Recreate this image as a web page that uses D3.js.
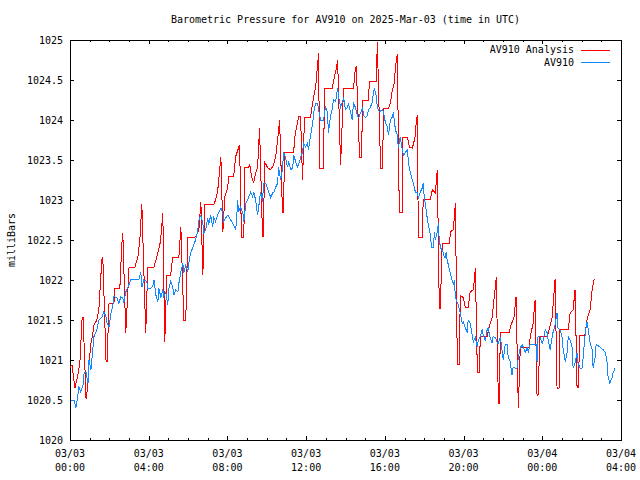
<!DOCTYPE html>
<html><head><meta charset="utf-8">
<script src="https://cdn.jsdelivr.net/npm/d3@7"></script>
<style>
html,body{margin:0;padding:0;background:#fff;}
svg{display:block;}
text{font-family:"DejaVu Sans Mono","Liberation Mono",monospace;font-size:10px;fill:#000;}
</style></head>
<body>
<svg id="chart" width="640" height="480"></svg>
<script>
// ---- data (minutes after 2025-03-03 00:00 UTC, millibars) ----
const chartTitle = "Barometric Pressure for AV910 on 2025-Mar-03 (time in UTC)";
const yLabel = "milliBars";
const seriesNames = ["AV910 Analysis", "AV910"];
const yTickValues = [1020, 1020.5, 1021, 1021.5, 1022, 1022.5, 1023, 1023.5, 1024, 1024.5, 1025];
const xTickHours = [0, 4, 8, 12, 16, 20, 24, 28];

const analysis = [
[0,1020.90],[6,1020.94],[15,1020.65],[24,1020.81],[30,1020.96],[37,1021.53],[40,1021.53],[49,1020.51],[55,1020.71],[58,1020.96],
[64,1021.21],[70,1021.34],[73,1021.44],[82,1021.50],[88,1021.63],[97,1022.25],[100,1022.29],[110,1020.98],[113,1020.98],[119,1021.71],
[134,1021.71],[137,1021.90],[152,1021.90],[158,1022.44],[161,1022.59],[170,1021.34],[180,1022.16],[198,1022.16],[207,1022.29],[213,1022.50],
[219,1022.95],[231,1021.34],[237,1022.16],[256,1022.16],[268,1022.34],[274,1022.44],[277,1022.54],[283,1022.84],[289,1021.23],[295,1022.06],
[307,1022.06],[313,1022.28],[332,1022.28],[338,1022.66],[347,1021.50],[353,1021.50],[359,1022.53],[377,1022.53],[383,1022.54],[393,1022.63],
[399,1022.98],[405,1022.06],[411,1022.94],[438,1022.94],[444,1023.00],[450,1023.10],[460,1023.54],[466,1022.60],[472,1023.04],[481,1023.16],
[484,1023.29],[499,1023.29],[505,1023.54],[517,1023.69],[523,1022.53],[530,1022.53],[533,1023.41],[545,1023.41],[548,1023.44],[554,1023.29],
[560,1023.21],[566,1023.34],[572,1023.41],[578,1023.90],[587,1022.54],[590,1022.54],[593,1023.48],[603,1023.40],[612,1023.38],[621,1023.44],
[627,1023.54],[633,1023.75],[639,1024.00],[648,1022.84],[651,1022.84],[654,1023.59],[682,1023.59],[685,1023.78],[697,1024.04],[703,1024.04],
[709,1023.25],[715,1024.03],[733,1024.03],[743,1024.29],[749,1024.41],[758,1024.84],[761,1023.40],[773,1023.40],[776,1024.39],[800,1024.39],
[803,1024.48],[813,1024.66],[816,1024.75],[825,1023.44],[834,1024.40],[864,1024.40],[867,1024.50],[870,1024.65],[873,1024.66],[883,1023.53],
[889,1023.53],[892,1024.25],[910,1024.25],[913,1024.48],[934,1024.48],[937,1024.98],[947,1023.40],[953,1023.40],[956,1024.15],[971,1024.15],
[977,1024.21],[983,1024.38],[989,1024.46],[992,1024.66],[998,1024.83],[1004,1022.85],[1013,1022.85],[1015,1023.78],[1029,1023.78],[1035,1023.66],
[1044,1023.65],[1050,1023.75],[1053,1023.81],[1056,1024.00],[1059,1024.06],[1062,1022.53],[1074,1022.53],[1077,1023.01],[1099,1023.01],[1105,1023.13],
[1114,1023.09],[1120,1023.38],[1126,1021.65],[1129,1021.65],[1135,1022.46],[1157,1022.46],[1160,1022.60],[1169,1022.63],[1175,1022.96],[1181,1020.94],
[1187,1020.94],[1190,1021.81],[1199,1021.78],[1205,1021.66],[1214,1021.66],[1220,1021.85],[1230,1021.88],[1236,1022.15],[1242,1020.85],[1248,1020.85],
[1251,1021.30],[1272,1021.30],[1281,1021.46],[1287,1021.53],[1300,1022.04],[1306,1020.46],[1309,1020.46],[1312,1021.34],[1339,1021.34],[1345,1021.44],
[1354,1021.54],[1360,1021.79],[1367,1020.40],[1373,1021.16],[1400,1021.16],[1403,1021.28],[1412,1021.46],[1418,1021.75],[1424,1020.56],[1427,1020.56],
[1433,1021.29],[1455,1021.29],[1461,1021.38],[1470,1021.53],[1479,1022.01],[1485,1020.65],[1491,1020.65],[1494,1021.38],[1519,1021.38],[1525,1021.59],
[1534,1021.63],[1540,1021.88],[1546,1020.66],[1549,1020.66],[1555,1021.31],[1570,1021.31],[1576,1021.50],[1586,1021.63],[1592,1021.88],[1598,1022.01]
];

const av910 = [
[3,1020.50],[12,1020.50],[18,1020.40],[24,1020.56],[27,1020.66],[33,1020.60],[40,1020.69],[43,1020.84],[49,1020.84],[55,1020.71],
[58,1021.00],[64,1020.88],[70,1021.16],[73,1021.29],[82,1021.38],[88,1021.50],[97,1021.53],[103,1021.60],[110,1021.54],[113,1021.46],
[119,1021.41],[125,1021.59],[131,1021.69],[134,1021.79],[143,1021.78],[149,1021.71],[155,1021.79],[161,1021.78],[164,1021.71],[170,1021.85],
[177,1021.91],[186,1022.01],[210,1022.01],[216,1022.10],[219,1021.91],[225,1022.00],[234,1021.98],[237,1021.90],[247,1021.90],[253,1021.93],
[256,1022.00],[262,1021.81],[268,1021.73],[271,1021.90],[277,1021.78],[283,1021.88],[286,1021.79],[292,1021.84],[298,1021.69],[301,1021.88],
[307,1021.98],[313,1021.91],[317,1021.81],[323,1021.88],[329,1021.85],[332,1021.96],[338,1022.10],[344,1022.21],[347,1022.09],[353,1022.19],
[359,1022.10],[362,1022.21],[368,1022.34],[374,1022.40],[377,1022.44],[383,1022.50],[390,1022.63],[393,1022.75],[399,1022.81],[405,1022.71],
[408,1022.59],[414,1022.63],[420,1022.78],[423,1022.69],[429,1022.81],[435,1022.66],[438,1022.78],[444,1022.73],[450,1022.81],[453,1022.84],
[460,1022.90],[466,1022.84],[469,1022.73],[475,1022.78],[481,1022.81],[484,1022.79],[490,1022.75],[496,1022.71],[499,1022.69],[505,1022.63],
[508,1022.75],[511,1023.00],[514,1022.85],[520,1022.91],[527,1022.84],[530,1022.73],[536,1022.96],[542,1023.00],[545,1023.04],[551,1023.10],
[557,1023.04],[560,1023.10],[566,1023.00],[572,1022.81],[575,1022.90],[581,1023.10],[587,1022.98],[590,1023.21],[597,1023.21],[603,1023.13],
[606,1023.10],[612,1023.03],[618,1023.09],[621,1023.09],[627,1023.16],[633,1023.21],[636,1023.41],[642,1023.25],[648,1023.38],[651,1023.60],
[657,1023.54],[663,1023.41],[667,1023.48],[673,1023.38],[679,1023.40],[682,1023.56],[688,1023.48],[694,1023.41],[697,1023.44],[703,1023.53],
[709,1023.60],[712,1023.71],[718,1023.66],[724,1023.71],[727,1023.63],[733,1023.79],[740,1023.96],[743,1024.09],[749,1024.21],[755,1024.21],
[758,1024.13],[764,1024.00],[773,1024.00],[779,1024.16],[785,1024.10],[788,1023.84],[794,1024.04],[800,1024.15],[803,1024.25],[810,1024.23],
[816,1024.40],[819,1024.29],[825,1024.16],[831,1024.23],[834,1024.28],[840,1024.13],[846,1024.16],[849,1024.21],[855,1024.10],[861,1024.00],
[864,1024.21],[870,1024.16],[877,1024.04],[880,1024.03],[886,1024.09],[892,1024.15],[895,1024.06],[901,1024.03],[907,1024.06],[910,1024.13],
[916,1024.16],[922,1024.23],[925,1024.34],[928,1024.40],[934,1024.29],[937,1024.16],[943,1024.10],[953,1024.13],[956,1024.09],[962,1023.96],
[968,1023.91],[971,1023.81],[977,1024.00],[983,1024.04],[986,1024.10],[992,1023.88],[998,1023.81],[1001,1023.65],[1007,1023.79],[1013,1023.63],
[1017,1023.56],[1023,1023.60],[1029,1023.63],[1032,1023.46],[1038,1023.34],[1044,1023.25],[1047,1023.21],[1053,1023.10],[1059,1023.09],[1062,1023.03],
[1068,1023.10],[1074,1023.15],[1077,1023.21],[1080,1023.04],[1087,1022.84],[1090,1022.75],[1099,1022.56],[1102,1022.41],[1108,1022.41],[1111,1022.60],
[1114,1022.50],[1120,1022.60],[1123,1022.71],[1126,1022.48],[1132,1022.38],[1138,1022.35],[1141,1022.29],[1144,1022.28],[1147,1022.35],[1150,1022.25],
[1157,1022.13],[1163,1022.03],[1169,1021.94],[1172,1022.00],[1175,1021.79],[1181,1021.71],[1184,1021.69],[1190,1021.59],[1196,1021.46],[1199,1021.48],
[1205,1021.41],[1211,1021.34],[1214,1021.50],[1220,1021.46],[1227,1021.29],[1230,1021.23],[1236,1021.28],[1242,1021.16],[1245,1021.25],[1251,1021.29],
[1257,1021.38],[1260,1021.31],[1266,1021.25],[1272,1021.38],[1275,1021.40],[1281,1021.28],[1287,1021.21],[1290,1021.29],[1297,1021.28],[1303,1021.21],
[1306,1021.21],[1312,1021.29],[1318,1021.10],[1321,1021.00],[1327,1021.19],[1333,1021.19],[1336,1021.04],[1342,1020.98],[1348,1020.81],[1351,1020.91],
[1357,1020.90],[1363,1020.90],[1367,1021.04],[1373,1021.16],[1379,1021.19],[1382,1021.16],[1388,1021.10],[1394,1021.15],[1397,1021.10],[1403,1021.19],
[1421,1021.19],[1424,1020.98],[1427,1021.29],[1433,1021.29],[1440,1021.21],[1443,1021.25],[1449,1021.38],[1455,1021.34],[1458,1021.25],[1464,1021.13],
[1470,1021.29],[1473,1021.35],[1479,1021.44],[1485,1021.59],[1488,1021.40],[1494,1021.38],[1500,1021.29],[1503,1021.15],[1510,1020.98],[1516,1021.10],
[1519,1021.29],[1525,1021.25],[1531,1021.16],[1534,1020.90],[1540,1020.96],[1546,1021.09],[1549,1020.96],[1555,1020.90],[1561,1020.90],[1564,1021.00],
[1570,1021.29],[1576,1021.48],[1580,1021.38],[1586,1021.21],[1592,1021.13],[1595,1020.90],[1601,1021.03],[1604,1021.19],[1607,1021.19],[1616,1021.16],
[1625,1021.13],[1631,1021.10],[1637,1021.00],[1640,1020.81],[1646,1020.71],[1653,1020.78],[1656,1020.84],[1662,1020.90]
];

// ---- layout ----
const W = 640, H = 480;
const M = {left: 70, right: 621, top: 40, bottom: 440};
const t0 = Date.UTC(2025, 2, 3, 0, 0);
const toDate = m => new Date(t0 + m * 60000);

const x = d3.scaleUtc().domain([toDate(0), toDate(28 * 60)]).range([M.left, M.right]);
const y = d3.scaleLinear().domain([1020, 1025]).range([M.bottom, M.top]);

const svg = d3.select("#chart");

// title
svg.append("text").attr("x", (M.left + M.right) / 2).attr("y", 23)
  .attr("text-anchor", "middle").text(chartTitle);

// y label
svg.append("text").attr("transform", `translate(15,${(M.top + M.bottom) / 2}) rotate(-90)`)
  .attr("text-anchor", "middle").text(yLabel);

const axesG = svg.append("g").attr("shape-rendering", "crispEdges");

// y axis (left, major ticks inward)
const yAxis = d3.axisLeft(y).tickValues(yTickValues).tickSize(-4).tickPadding(7)
  .tickFormat(d => String(d));
axesG.append("g").attr("transform", `translate(${M.left},0)`).call(yAxis);
// y mirror (right)
axesG.append("g").attr("transform", `translate(${M.right},0)`)
  .call(d3.axisRight(y).tickValues(yTickValues).tickSize(-4).tickFormat(""));

// x axis
const xMajor = xTickHours.map(h => toDate(h * 60));
const xMinor = d3.range(0, 29).filter(h => h % 4 !== 0).map(h => toDate(h * 60));
const fmtDate = d3.utcFormat("%m/%d"), fmtTime = d3.utcFormat("%H:%M");
axesG.append("g").attr("transform", `translate(0,${M.bottom})`)
  .call(d3.axisBottom(x).tickValues(xMajor).tickSize(-4).tickFormat(""));
axesG.append("g").attr("transform", `translate(0,${M.bottom})`)
  .call(d3.axisBottom(x).tickValues(xMinor).tickSize(-2).tickFormat(""));
axesG.append("g").attr("transform", `translate(0,${M.top})`)
  .call(d3.axisTop(x).tickValues(xMajor).tickSize(-4).tickFormat(""));
axesG.append("g").attr("transform", `translate(0,${M.top})`)
  .call(d3.axisTop(x).tickValues(xMinor).tickSize(-2).tickFormat(""));

// two-line x tick labels
const xl = svg.append("g");
xMajor.forEach(d => {
  const t = xl.append("text").attr("x", x(d)).attr("text-anchor", "middle");
  t.append("tspan").attr("x", x(d)).attr("y", 457).text(fmtDate(d));
  t.append("tspan").attr("x", x(d)).attr("y", 471).text(fmtTime(d));
});

axesG.selectAll(".domain").remove();
axesG.selectAll("line").attr("stroke", "#000");
svg.selectAll(".tick text").attr("font-family", null).attr("font-size", null).style("fill", "#000");

// border
axesG.append("rect").attr("x", M.left).attr("y", M.top)
  .attr("width", M.right - M.left).attr("height", M.bottom - M.top)
  .attr("fill", "none").attr("stroke", "#000");

// data lines (aliased like the original bitmap plot)
const line = d3.line().x(d => x(toDate(d[0]))).y(d => y(d[1]));
const colors = ["#ff0000", "#1489ff"];
svg.append("path").datum(analysis).attr("d", line).attr("shape-rendering", "crispEdges")
  .attr("fill", "none").attr("stroke", colors[0]).attr("stroke-width", 1);
svg.append("path").datum(av910).attr("d", line).attr("shape-rendering", "crispEdges")
  .attr("fill", "none").attr("stroke", colors[1]).attr("stroke-width", 1);

// legend
const lg = svg.append("g");
seriesNames.forEach((n, i) => {
  const ly = 49.5 + i * 12.8;
  lg.append("text").attr("x", 574).attr("y", ly + 3.5).attr("text-anchor", "end").text(n);
  lg.append("line").attr("x1", 581).attr("x2", 610).attr("y1", Math.round(ly) + 0.5).attr("y2", Math.round(ly) + 0.5)
    .attr("stroke", colors[i]).attr("stroke-width", 1).attr("shape-rendering", "crispEdges");
});
</script>
</body></html>
